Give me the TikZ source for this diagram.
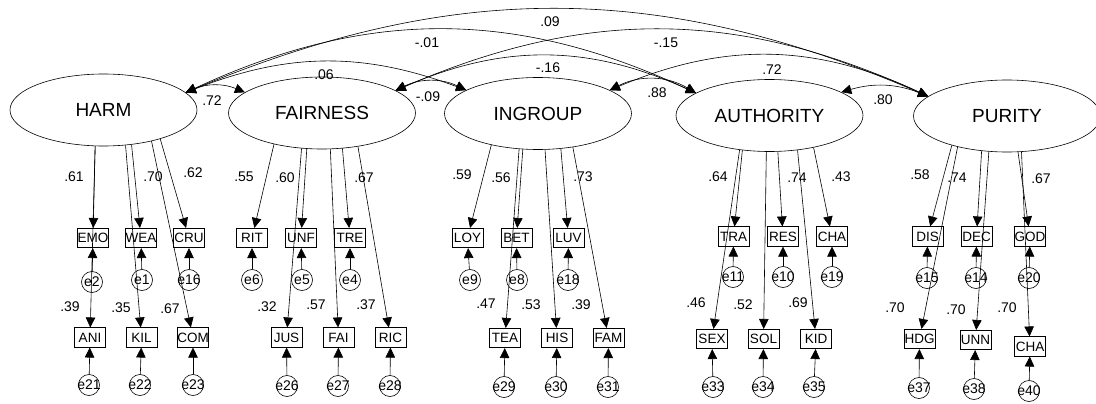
\documentclass[tikz,border=0pt]{standalone}
\usepackage{fontspec}
\setmainfont{Liberation Sans}
\usetikzlibrary{shapes.geometric,arrows.meta}
% error-term labels may be wider than their circles
\newcommand\elab[1]{\makebox[0pt]{#1}}
\begin{document}
\begin{tikzpicture}[x=1pt,y=-1pt,line width=0.6pt,
  latent/.style={ellipse,draw,minimum width=187pt,minimum height=72pt,inner sep=0pt,
    font=\fontsize{19}{22}\selectfont},
  obs/.style={rectangle,draw,minimum width=31pt,minimum height=19.5pt,inner sep=0pt,
    font=\fontsize{13.5}{15}\selectfont},
  err/.style={circle,draw,minimum size=21pt,inner sep=0pt,
    font=\fontsize{14}{16}\selectfont},
  tip/.tip={Triangle[length=10pt,width=9.5pt]},
  load/.style={-tip},
  cov/.style={tip-tip},
  coef/.style={inner sep=0pt,font=\fontsize{14}{16}\selectfont}]
\useasboundingbox (0,0) rectangle (1096,404);
\clip (0,0) rectangle (1096,404);

% latent factors
\node[latent] (HARM) at (103.5,110) {HARM};
\node[latent] (FAIR) at (322,113) {FAIRNESS};
\node[latent] (INGR) at (538,113.5) {INGROUP};
\node[latent] (AUTH) at (769.5,115.5) {AUTHORITY};
\node[latent] (PUR) at (1007,116) {PURITY};

% factor covariances
\draw[cov] (HARM.12) to[bend left=23] (FAIR.165);
\draw[cov] (FAIR.17) to[bend left=26] (INGR.162);
\draw[cov] (INGR.18) to[bend left=29] (AUTH.163);
\draw[cov] (AUTH.18) to[bend left=19] (PUR.166);
\draw[cov] (HARM.12) to[bend left=21] (INGR.162);
\draw[cov] (FAIR.17) to[bend left=24] (AUTH.163);
\draw[cov] (INGR.18) to[bend left=24] (PUR.166);
\draw[cov] (HARM.12) to[bend left=25] (AUTH.163);
\draw[cov] (FAIR.17) to[bend left=24] (PUR.166);
\draw[cov] (HARM.12) to[bend left=23] (PUR.166);

\node[coef] (c1) at (212,101) {.72};
\node[coef] (c2) at (428,97) {-.09};
\node[coef] (c3) at (657,93) {.88};
\node[coef] (c4) at (883,100) {.80};
\node[coef] (c5) at (324,75) {.06};
\node[coef] (c6) at (548,68) {-.16};
\node[coef] (c7) at (772,70) {.72};
\node[coef] (c8) at (427,43) {-.01};
\node[coef] (c9) at (666,43) {-.15};
\node[coef] (c10) at (550,22) {.09};

% HARM indicators
\node[obs] (EMO) at (93,238) {EMO};
\node[obs] (WEA) at (141,238) {WEA};
\node[obs] (CRU) at (189,238) {CRU};
\node[obs] (ANI) at (90,337.5) {ANI};
\node[obs] (KIL) at (141.5,337.5) {KIL};
\node[obs] (COM) at (193,337.5) {COM};
\node[err] (e2) at (92,282) {\elab{e2}};
\node[err] (e1) at (142,280) {\elab{e1}};
\node[err] (e16) at (189,280) {\elab{e16}};
\node[err] (e21) at (89,385) {\elab{e21}};
\node[err] (e22) at (140,385) {\elab{e22}};
\node[err] (e23) at (193,385) {\elab{e23}};
\draw[load] (HARM.-103) -- (EMO);
\draw[load] (HARM.-103) -- (ANI);
\draw[load] (HARM.-51) -- (WEA);
\draw[load] (HARM.-58) -- (KIL);
\draw[load] (HARM.-33) -- (COM);
\draw[load] (HARM.-27) -- (CRU);
\foreach \e/\v in {e2/EMO,e1/WEA,e16/CRU,e21/ANI,e22/KIL,e23/COM} \draw[load] (\e) -- (\v);
\node[coef] at (74,177) {.61};
\node[coef] at (153,177) {.70};
\node[coef] at (193,173) {.62};
\node[coef] at (70,307) {.39};
\node[coef] at (121,308) {.35};
\node[coef] at (170,309) {.67};

% FAIRNESS indicators
\node[obs] (RIT) at (252,238) {RIT};
\node[obs] (UNF) at (301,238) {UNF};
\node[obs] (TRE) at (350,238) {TRE};
\node[obs] (JUS) at (286.5,337.5) {JUS};
\node[obs] (FAI) at (338.5,337.5) {FAI};
\node[obs] (RIC) at (390.5,337.5) {RIC};
\node[err] (e6) at (252,280) {\elab{e6}};
\node[err] (e5) at (302,280) {\elab{e5}};
\node[err] (e4) at (350,280) {\elab{e4}};
\node[err] (e26) at (287,386) {\elab{e26}};
\node[err] (e27) at (338,386) {\elab{e27}};
\node[err] (e28) at (390,386) {\elab{e28}};
\draw[load] (FAIR.-147) -- (RIT);
\draw[load] (FAIR.-120) -- (JUS);
\draw[load] (FAIR.-113) -- (UNF);
\draw[load] (FAIR.-77) -- (FAI);
\draw[load] (FAIR.-60) -- (TRE);
\draw[load] (FAIR.-43) -- (RIC);
\foreach \e/\v in {e6/RIT,e5/UNF,e4/TRE,e26/JUS,e27/FAI,e28/RIC} \draw[load] (\e) -- (\v);
\node[coef] at (244,177) {.55};
\node[coef] at (285,178) {.60};
\node[coef] at (364,178) {.67};
\node[coef] at (267,307) {.32};
\node[coef] at (316,305) {.57};
\node[coef] at (366,305) {.37};

% INGROUP indicators
\node[obs] (LOY) at (467.5,238) {LOY};
\node[obs] (BET) at (516.5,238) {BET};
\node[obs] (LUV) at (568.5,238) {LUV};
\node[obs] (TEA) at (505,338) {TEA};
\node[obs] (HIS) at (557,338) {HIS};
\node[obs] (FAM) at (608.5,338) {FAM};
\node[err] (e9) at (470,280) {\elab{e9}};
\node[err] (e8) at (517,280) {\elab{e8}};
\node[err] (e18) at (568,280) {\elab{e18}};
\node[err] (e29) at (504,387) {\elab{e29}};
\node[err] (e30) at (556,387) {\elab{e30}};
\node[err] (e31) at (608,387) {\elab{e31}};
\draw[load] (INGR.-146.5) -- (LOY);
\draw[load] (INGR.-118) -- (TEA);
\draw[load] (INGR.-113) -- (BET);
\draw[load] (INGR.-79) -- (HIS);
\draw[load] (INGR.-57) -- (LUV);
\draw[load] (INGR.-44) -- (FAM);
\foreach \e/\v in {e9/LOY,e8/BET,e18/LUV,e29/TEA,e30/HIS,e31/FAM} \draw[load] (\e) -- (\v);
\node[coef] at (462,175) {.59};
\node[coef] at (501,178) {.56};
\node[coef] at (583,177) {.73};
\node[coef] at (486,304) {.47};
\node[coef] at (531,305) {.53};
\node[coef] at (581,305) {.39};

% AUTHORITY indicators
\node[obs] (TRA) at (733.5,236.5) {TRA};
\node[obs] (RES) at (783,236.5) {RES};
\node[obs] (CHA) at (832,236.5) {CHA};
\node[obs] (SEX) at (712,339) {SEX};
\node[obs] (SOL) at (763.5,339) {SOL};
\node[obs] (KID) at (816,339) {KID};
\node[err] (e11) at (733,277) {\elab{e11}};
\node[err] (e10) at (783,277) {\elab{e10}};
\node[err] (e19) at (832,277) {\elab{e19}};
\node[err] (e33) at (713,387) {\elab{e33}};
\node[err] (e34) at (763,387) {\elab{e34}};
\node[err] (e35) at (814,387) {\elab{e35}};
\draw[load] (AUTH.-131) -- (SEX);
\draw[load] (AUTH.-128) -- (TRA);
\draw[load] (AUTH.-95) -- (SOL);
\draw[load] (AUTH.-77) -- (RES);
\draw[load] (AUTH.-51) -- (KID);
\draw[load] (AUTH.-36) -- (CHA);
\foreach \e/\v in {e11/TRA,e10/RES,e19/CHA,e33/SEX,e34/SOL,e35/KID} \draw[load] (\e) -- (\v);
\node[coef] at (718,177) {.64};
\node[coef] at (797,178) {.74};
\node[coef] at (841,177) {.43};
\node[coef] at (696,303) {.46};
\node[coef] at (743,305) {.52};
\node[coef] at (798,303) {.69};

% PURITY indicators
\node[obs] (DIS) at (927.5,236.5) {DIS};
\node[obs] (DEC) at (976.5,236.5) {DEC};
\node[obs] (GOD) at (1030,236.5) {GOD};
\node[obs] (HDG) at (919.5,339) {HDG};
\node[obs] (UNN) at (975.5,340) {UNN};
\node[obs] (CHB) at (1030,346.5) {CHA};
\node[err] (e15) at (927,278) {\elab{e15}};
\node[err] (e14) at (976,278) {\elab{e14}};
\node[err] (e20) at (1029,278) {\elab{e20}};
\node[err] (e37) at (919,388) {\elab{e37}};
\node[err] (e38) at (974,389) {\elab{e38}};
\node[err] (e40) at (1029,391) {\elab{e40}};
\draw[load] (PUR.-152) -- (DIS);
\draw[load] (PUR.-148) -- (HDG);
\draw[load] (PUR.-126) -- (DEC);
\draw[load] (PUR.-117) -- (UNN);
\draw[load] (PUR.-73) -- (GOD);
\draw[load] (PUR.-68.5) -- (CHB);
\foreach \e/\v in {e15/DIS,e14/DEC,e20/GOD,e37/HDG,e38/UNN,e40/CHB} \draw[load] (\e) -- (\v);
\node[coef] at (920,175) {.58};
\node[coef] at (957,178) {.74};
\node[coef] at (1041,179) {.67};
\node[coef] at (895,308) {.70};
\node[coef] at (956,310) {.70};
\node[coef] at (1007,308) {.70};
\end{tikzpicture}
\end{document}
